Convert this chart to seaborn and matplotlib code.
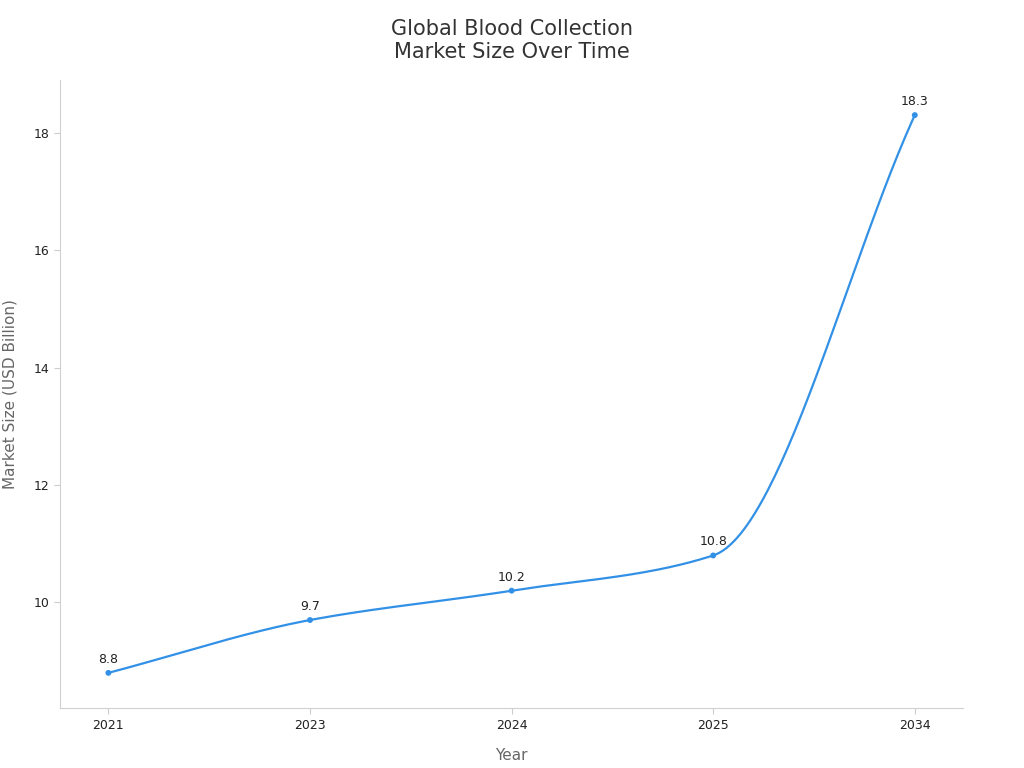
import numpy as np
import matplotlib
matplotlib.use("Agg")
import matplotlib.pyplot as plt
import seaborn as sns
import pandas as pd

years = ["2021", "2023", "2024", "2025", "2034"]
values = [8.8, 9.7, 10.2, 10.8, 18.3]

def pchip(x, y, n=60):
    x = np.asarray(x, float); y = np.asarray(y, float)
    h = np.diff(x); d = np.diff(y) / h
    m = np.zeros_like(y)
    for k in range(1, len(y) - 1):
        if d[k-1] * d[k] > 0:
            w1 = 2*h[k] + h[k-1]; w2 = h[k] + 2*h[k-1]
            m[k] = (w1 + w2) / (w1/d[k-1] + w2/d[k])
    m[0] = d[0]; m[-1] = d[-1]
    xs, ys = [], []
    for k in range(len(h)):
        t = np.linspace(0, 1, n)
        h00 = 2*t**3 - 3*t**2 + 1; h10 = t**3 - 2*t**2 + t
        h01 = -2*t**3 + 3*t**2; h11 = t**3 - t**2
        xs.append(x[k] + t*h[k])
        ys.append(h00*y[k] + h10*h[k]*m[k] + h01*y[k+1] + h11*h[k]*m[k+1])
    return np.concatenate(xs), np.concatenate(ys)

df = pd.DataFrame({"x": np.arange(len(years)), "Market Size": values})
cx, cy = pchip(df["x"], df["Market Size"])

color = "#3291e6"
fig = plt.figure(figsize=(10.24, 7.68), dpi=100)
ax = fig.add_axes([0.0586, 0.078, 0.882, 0.818])
sns.lineplot(x=cx, y=cy, ax=ax, color=color, linewidth=1.6)
sns.scatterplot(data=df, x="x", y="Market Size", ax=ax, color=color, s=18, edgecolor="none", zorder=3)
for xi, v in zip(df["x"], values):
    ax.annotate(f"{v}", (xi, v), xytext=(0, 5), textcoords="offset points",
                ha="center", va="bottom", fontsize=9, color="#222222")

ax.set_xlim(-0.24, 4.24)
ax.set_ylim(8.2, 18.9)
ax.set_xticks(df["x"]); ax.set_xticklabels(years)
ax.set_yticks([10, 12, 14, 16, 18])
ax.tick_params(labelsize=9, colors="#222222", length=4, color="#cccccc")
for s in ["top", "right"]:
    ax.spines[s].set_visible(False)
for s in ["left", "bottom"]:
    ax.spines[s].set_color("#d0d0d0")
ax.set_xlabel("Year", fontsize=11, color="#666666", labelpad=12)
ax.set_ylabel("Market Size (USD Billion)", fontsize=11, color="#666666", labelpad=12)
fig.suptitle("Global Blood Collection\nMarket Size Over Time", fontsize=15, color="#333333", y=0.975)
fig.savefig("out.png", dpi=100)
